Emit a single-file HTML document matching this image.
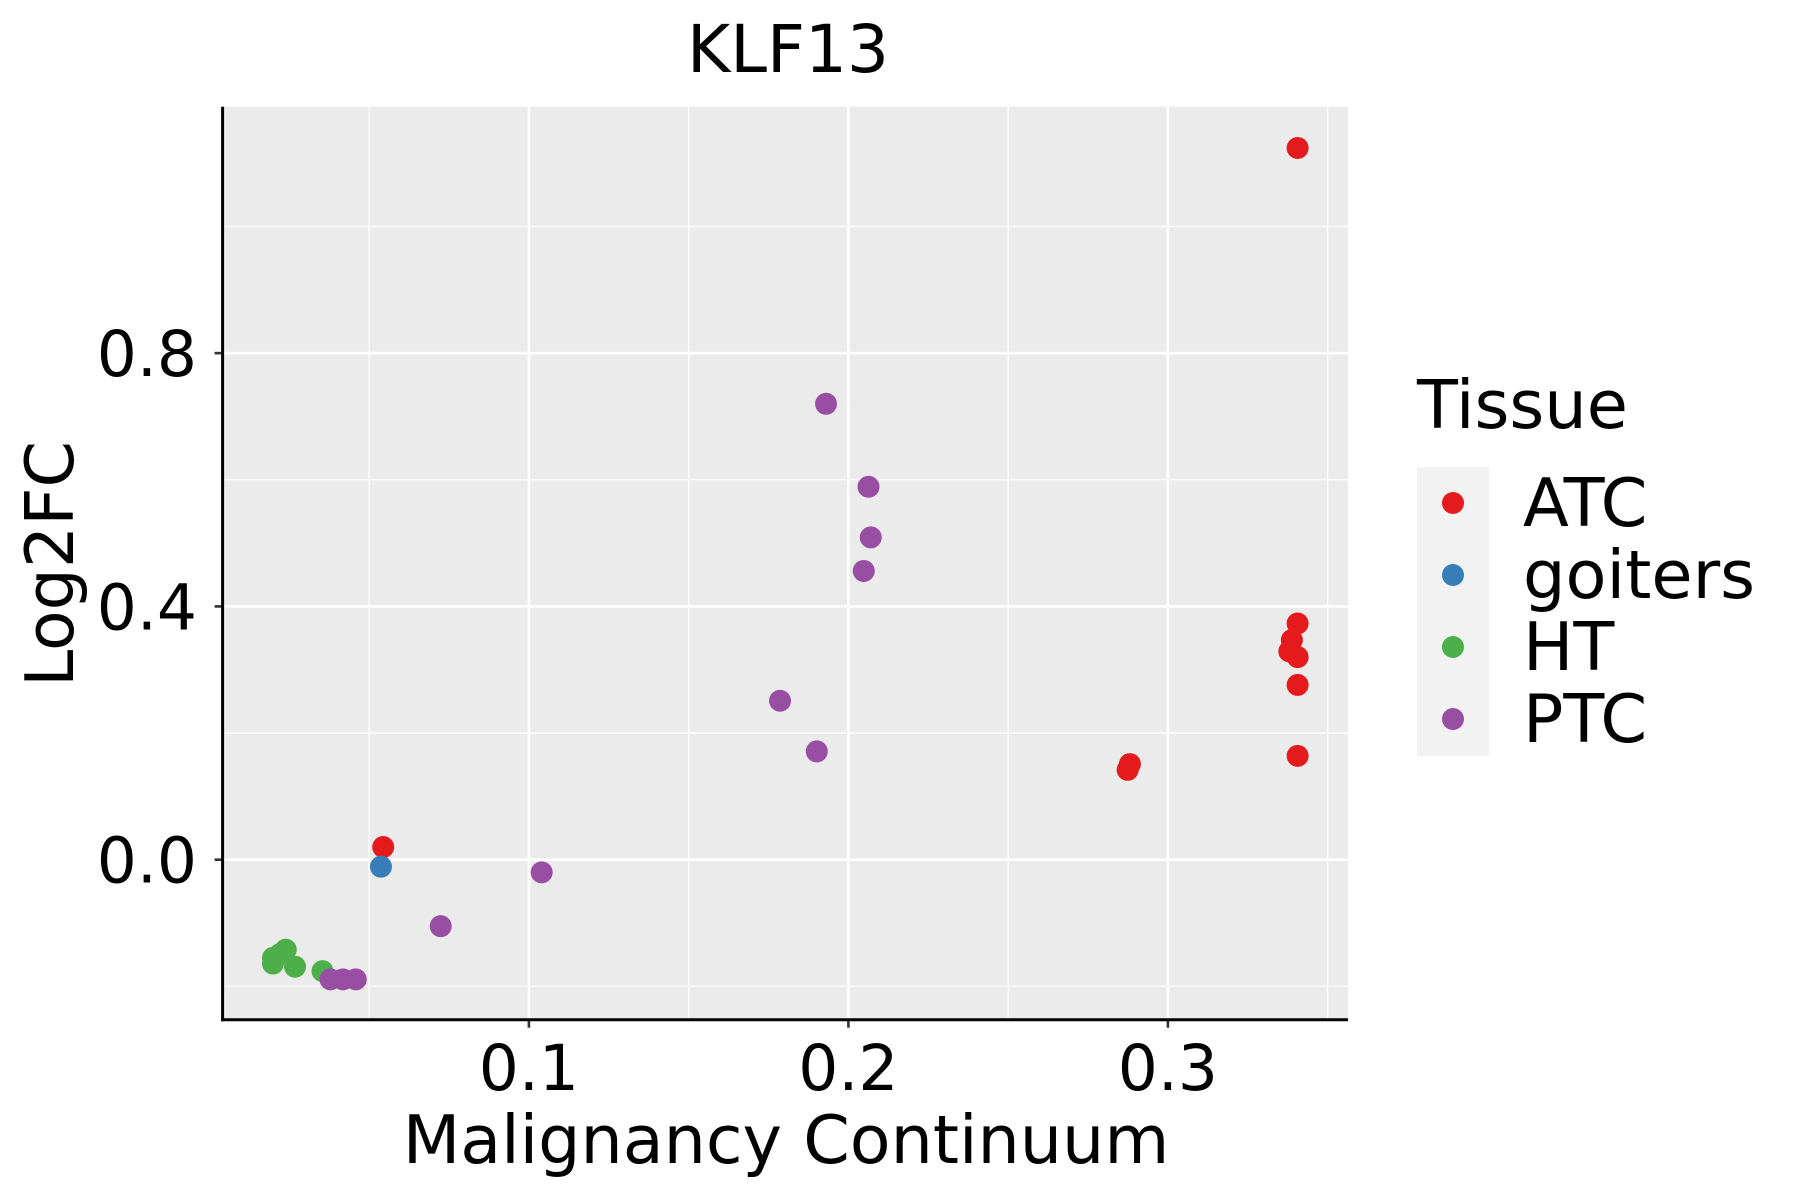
<!DOCTYPE html>
<html><head><meta charset="utf-8"><style>body{margin:0;background:#fff}svg{display:block;font-family:"DejaVu Sans","Liberation Sans",sans-serif}</style></head>
<body>
<svg id="chart" width="1800" height="1200" viewBox="0 0 1800 1200" xmlns="http://www.w3.org/2000/svg">
<rect width="1800" height="1200" fill="#fff"/>
<text x="788" y="72" font-size="66" text-anchor="middle">KLF13</text>
<rect x="222.6" y="106.7" width="1125.4" height="913" fill="#ebebeb"/>
<g id="grid"></g>
<g id="points"></g>
<g id="axes"></g>
<text x="786" y="1163" font-size="66.7" text-anchor="middle">Malignancy Continuum</text>
<text transform="translate(73,564) rotate(-90)" font-size="66.5" text-anchor="middle">Log2FC</text>
<text x="1417" y="428" font-size="67">Tissue</text>
<rect x="1417" y="467" width="72" height="289" fill="#f2f2f2"/>
<g id="legend"></g>
</svg>
<script>
const xTicks=[0.1,0.2,0.3];
const xMinor=[0.05,0.15,0.25,0.35];
const yTicks=[0.0,0.4,0.8];
const yMinor=[-0.2,0.2,0.6,1.0];
const tissues=["ATC","goiters","HT","PTC"];
const colors=["#e41a1c","#377eb8","#4daf4a","#984ea3"];
const atcX=[0.3406,0.3406,0.3388,0.338,0.3406,0.3406,0.3406,0.2881,0.2874,0.0544];
const atcY=[1.124,0.373,0.347,0.329,0.32,0.276,0.164,0.151,0.142,0.02];
const goitersX=[0.0537];
const goitersY=[-0.011];
const htX=[0.0199,0.0199,0.0239,0.0268,0.0354,0.0221];
const htY=[-0.155,-0.164,-0.142,-0.169,-0.176,-0.149];
const ptcX=[0.193,0.2063,0.207,0.2048,0.1786,0.1901,0.104,0.0724,0.0379,0.0418,0.0458];
const ptcY=[0.72,0.589,0.509,0.456,0.251,0.171,-0.02,-0.105,-0.189,-0.189,-0.189];
const seriesX=[atcX,goitersX,htX,ptcX];
const seriesY=[atcY,goitersY,htY,ptcY];
const L=222.6,R=1348,T=106.7,B=1019.7;
function sx(v){return 528.9+(v-0.1)*3195;}
function sy(v){return 859.7-v*633.2;}
const NS="http://www.w3.org/2000/svg";
function mk(tag,attrs,parent){const e=document.createElementNS(NS,tag);for(const k in attrs)e.setAttribute(k,attrs[k]);parent.appendChild(e);return e;}
const grid=document.getElementById('grid'),pts=document.getElementById('points'),axes=document.getElementById('axes'),leg=document.getElementById('legend');
xMinor.forEach(v=>{if(sx(v)>L&&sx(v)<R){const l=mk('line',{x1:sx(v),x2:sx(v),y1:T,y2:B,stroke:'#fff','stroke-width':1.3},grid);}});
yMinor.forEach(v=>{if(sy(v)>T&&sy(v)<B){const l=mk('line',{x1:L,x2:R,y1:sy(v),y2:sy(v),stroke:'#fff','stroke-width':1.3},grid);}});
xTicks.forEach(v=>{const l=mk('line',{x1:sx(v),x2:sx(v),y1:T,y2:B,stroke:'#fff','stroke-width':2.6},grid);
const k=mk('line',{x1:sx(v),x2:sx(v),y1:B,y2:B+8,stroke:'#333','stroke-width':2.6},axes);
const t=mk('text',{x:sx(v),y:1090,'font-size':63,'text-anchor':'middle'},axes);t.textContent=v.toFixed(1);});
yTicks.forEach(v=>{const l=mk('line',{x1:L,x2:R,y1:sy(v),y2:sy(v),stroke:'#fff','stroke-width':2.6},grid);
const k=mk('line',{x1:L-8,x2:L,y1:sy(v),y2:sy(v),stroke:'#333','stroke-width':2.6},axes);
const t=mk('text',{x:197,y:sy(v)+23,'font-size':63,'text-anchor':'end'},axes);t.textContent=v.toFixed(1);});
const ax=mk('line',{x1:L,x2:L,y1:T,y2:B+1.5,stroke:'#000','stroke-width':3},axes);
const bx=mk('line',{x1:L-1.5,x2:R,y1:B,y2:B,stroke:'#000','stroke-width':3},axes);
tissues.forEach((name,i)=>{seriesX[i].forEach((xv,j)=>{const c=mk('circle',{cx:sx(xv),cy:sy(seriesY[i][j]),r:11,fill:colors[i]},pts);});
const yy=503+i*72;
const kc=mk('circle',{cx:1453,cy:yy,r:11,fill:colors[i]},leg);
const lt=mk('text',{x:1523,y:yy+23,'font-size':67},leg);lt.textContent=name;});
</script>
</body></html>
